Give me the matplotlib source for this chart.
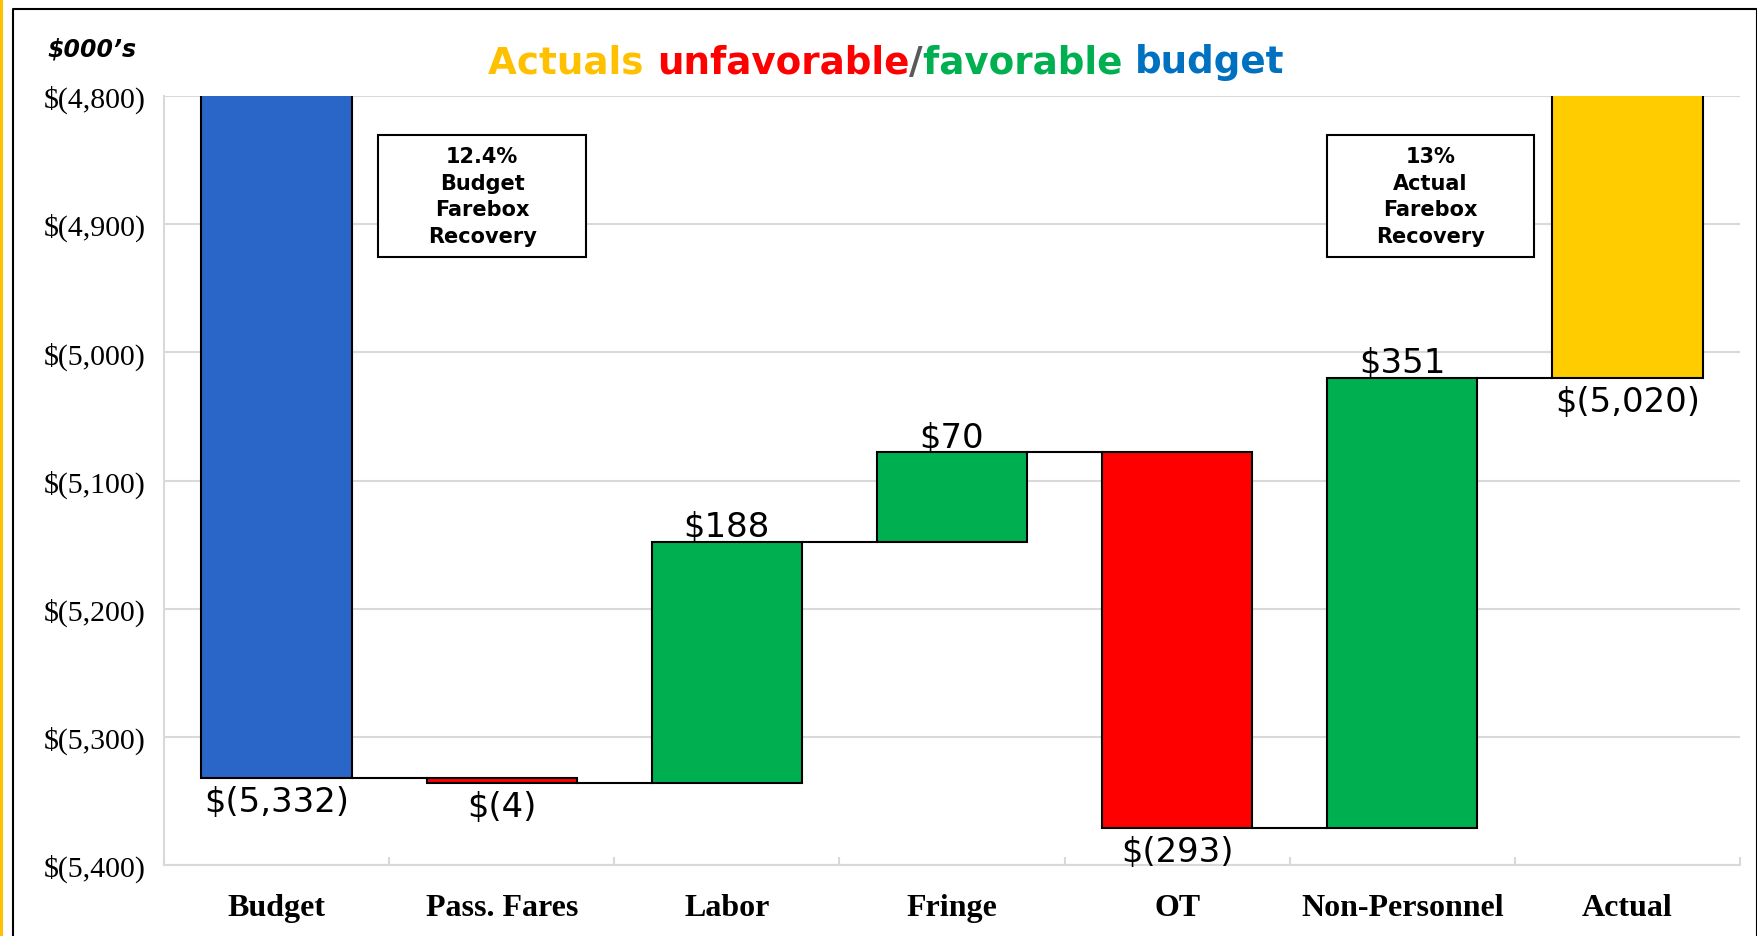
import matplotlib.pyplot as plt
from matplotlib.patches import Rectangle
from matplotlib.lines import Line2D
from matplotlib.ticker import FuncFormatter, FixedLocator

# ------------ Data ($000's) ------------
categories = ["Budget", "Pass. Fares", "Labor", "Fringe", "OT", "Non-Personnel", "Actual"]
budget_total = -5332
changes = [-4, 188, 70, -293, 351]
actual_total = -5020

box_texts = ["12.4%\nBudget\nFarebox\nRecovery", "13%\nActual\nFarebox\nRecovery"]

title_parts = [("Actuals ", "#FFC000"), ("unfavorable", "#FF0000"), ("/", "#595959"),
               ("favorable ", "#00B050"), ("budget", "#0070C0")]

BLUE = "#2A66C8"
GOLD = "#FFCC00"
GREEN = "#00B050"
RED = "#FF0000"
GRID = "#D9D9D9"


def money(v):
    if v < 0:
        return f"$({abs(v):,.0f})"
    return f"${v:,.0f}"


W, H = 1758, 937
fig = plt.figure(figsize=(W / 100, H / 100), dpi=100)
ax = fig.add_axes([164 / W, 1 - 866 / H, (1740 - 164) / W, (866 - 97) / H])

width = 0.667
x = list(range(len(categories)))

# bar list: (bottom, height, color)
bars = [(0, budget_total, BLUE)]
level = budget_total
levels = [level]
for c in changes:
    bars.append((level, c, GREEN if c > 0 else RED))
    level += c
    levels.append(level)
bars.append((0, actual_total, GOLD))

for i, (b, h, col) in enumerate(bars):
    ax.bar(i, h, bottom=b, width=width, color=col, edgecolor="black", linewidth=1.5, zorder=3)

# connector lines between bars
for i, lv in enumerate(levels):
    ax.plot([i + width / 2, i + 1 - width / 2], [lv, lv], color="black", lw=1.5, zorder=3)

# value labels
label_vals = [budget_total] + changes + [actual_total]
for i, (b, h, col) in enumerate(bars):
    v = label_vals[i]
    lo, hi = min(b, b + h), max(b, b + h)
    if v < 0:
        ax.annotate(money(v), (i, lo), xytext=(0, -5), textcoords="offset points",
                    ha="center", va="top", fontsize=24.4, family="DejaVu Sans", zorder=4)
    else:
        ax.annotate(money(v), (i, hi), xytext=(0, 4), textcoords="offset points",
                    ha="center", va="baseline", fontsize=24.4, family="DejaVu Sans", zorder=4)

# farebox recovery boxes
for (x0, x1), txt in zip([(0.451, 1.376), (4.664, 5.584)], box_texts):
    ax.add_patch(Rectangle((x0, -4925.6), x1 - x0, 95.2, facecolor="white",
                           edgecolor="black", lw=1.5, zorder=5))
    ax.text((x0 + x1) / 2, -4878, txt, ha="center", va="center", fontsize=15,
            fontweight="bold", family="DejaVu Sans", linespacing=1.4, zorder=6)

ax.set_xlim(-0.5, len(categories) - 0.5)
ax.set_ylim(-5400, -4800)
ax.set_yticks(range(-5400, -4799, 100))
ax.yaxis.set_major_formatter(FuncFormatter(lambda v, p: money(v)))
ax.set_xticks(x)
ax.set_xticklabels(categories, fontsize=23, fontweight="bold", family="Liberation Serif")
for t in ax.get_yticklabels():
    t.set_fontsize(21.5)
    t.set_family("Liberation Serif")
ax.xaxis.set_minor_locator(FixedLocator([i + 0.5 for i in range(-1, len(categories))]))
ax.tick_params(axis="x", which="major", length=0, pad=20)
ax.tick_params(axis="x", which="minor", length=6, direction="in", color=GRID, width=1.5)
ax.tick_params(axis="y", length=0, pad=13)
ax.grid(axis="y", color=GRID, lw=1.5, zorder=0)
ax.set_axisbelow(True)
for s in ["top", "right"]:
    ax.spines[s].set_visible(False)
for s in ["left", "bottom"]:
    ax.spines[s].set_color(GRID)
    ax.spines[s].set_linewidth(1.5)

fig.text(47 / W, 1 - 56 / H, "$000\u2019s", fontsize=17, fontweight="bold", style="italic",
         family="DejaVu Sans", va="baseline")

# multi-coloured title, centred as a whole
renderer = fig.canvas.get_renderer()
pieces = []
for s, c in title_parts:
    pieces.append(fig.text(0, 1 - 73 / H, s, color=c, fontsize=26.8, fontweight="bold",
                           family="DejaVu Sans", va="baseline"))
widths = [p.get_window_extent(renderer).width for p in pieces]
xpos = 886.5 - sum(widths) / 2
for p, w in zip(pieces, widths):
    p.set_x(xpos / W)
    xpos += w

# outer frame
fig.add_artist(Line2D([1.5 / W, 1.5 / W], [0, 1], color="#FFC000", lw=2.2))
fig.add_artist(Line2D([13 / W, 13 / W, 1757 / W, 1757 / W], [0, 1 - 10 / H, 1 - 10 / H, 0],
                      color="black", lw=1.5))

fig.savefig("out.png", dpi=100)
